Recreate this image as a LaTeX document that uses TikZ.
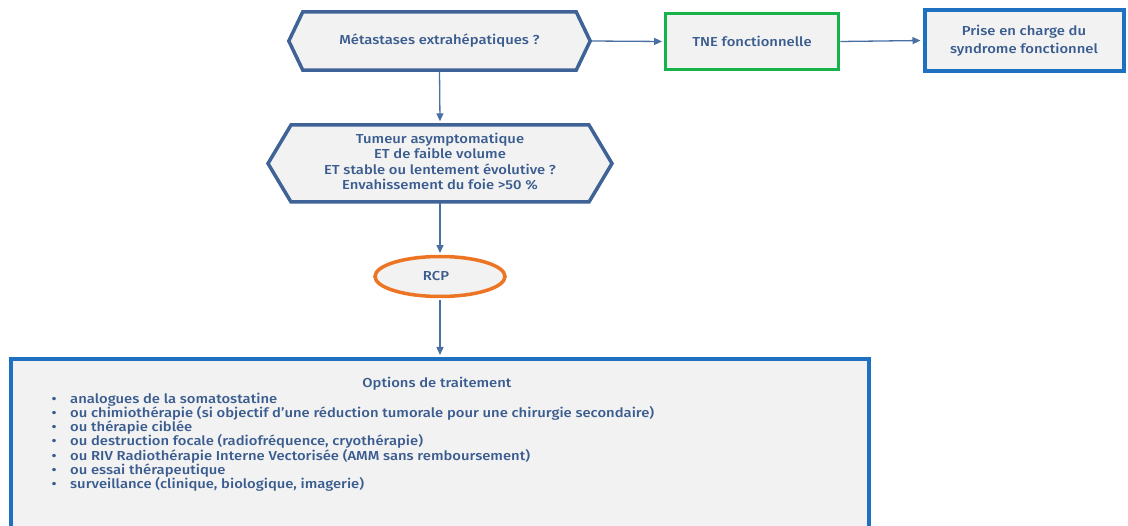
\documentclass[tikz,border=0pt]{standalone}
\usepackage{fontspec}
\setmainfont{Fira Sans}[UprightFont=* Medium, BoldFont=* SemiBold, FakeStretch=1.14]
\usetikzlibrary{arrows.meta,shapes.geometric,calc}

\definecolor{txt}{HTML}{3A5C8F}
\definecolor{hexline}{HTML}{3F6397}
\definecolor{conn}{HTML}{4A6FA3}
\definecolor{paper}{HTML}{F2F2F2}
\definecolor{grn}{HTML}{16B24A}
\definecolor{org}{HTML}{EC7423}
\definecolor{blu}{HTML}{1E70C1}

\pgfdeclarelayer{bg}
\pgfsetlayers{bg,main}

% hexagon with pointed left/right ends drawn around a named node
\newcommand\hexframe[2]{%
  \begin{pgfonlayer}{bg}
  \draw[hexline, line width=3.5pt, fill=paper]
    (#1.west) -- ([xshift=#2]#1.north west) -- ([xshift=-#2]#1.north east)
    -- (#1.east) -- ([xshift=-#2]#1.south east) -- ([xshift=#2]#1.south west) -- cycle;
  \end{pgfonlayer}}

\newcommand\itm{\makebox[19pt][l]{\hspace{0.5pt}•}}

\tikzset{
  label text/.style={text=txt, font=\fontsize{13}{15}\selectfont, align=center},
  hexnode/.style={label text, inner sep=0pt},
  link/.style={conn, line width=1.3pt, -{Triangle[length=8pt,width=7pt]}},
}

\begin{document}
\begin{tikzpicture}[x=1pt,y=-1pt]
\useasboundingbox (0,0) rectangle (1128,526);

% decision hexagons
\node[hexnode, minimum width=301, minimum height=58] (m1) at (439.5,41) {Métastases extrahépatiques ?};
\hexframe{m1}{14}
\node[hexnode, minimum width=344, minimum height=77, font=\fontsize{13}{15.5}\selectfont] (m2) at (440,161.5)
  {Tumeur asymptomatique\\ET de faible volume\\ET stable ou lentement évolutive ?\\Envahissement du foie >50 \%};
\path (m2.north) ++(0,-1.5) coordinate (m2top) (m2.south) ++(0,2.5) coordinate (m2bot);
\begin{pgfonlayer}{bg}
\draw[hexline, line width=3.5pt, fill=paper]
  (268,163.5) -- (291,125) -- (589,125) -- (612,163.5) -- (589,202) -- (291,202) -- cycle;
\end{pgfonlayer}

% boxes on the right
\node[label text, draw=grn, line width=3.5pt, fill=paper, minimum width=173, minimum height=56] (tne) at (752,41.5) {TNE fonctionnelle};
\node[label text, draw=blu, line width=4pt, fill=paper, minimum width=199, minimum height=61, font=\fontsize{13}{17.5}\selectfont] (pec) at (1024,40.5)
  {Prise en charge du\\syndrome fonctionnel};

% RCP ellipse
\node[label text, ellipse, draw=org, line width=3.5pt, fill=paper, minimum width=130, minimum height=40, inner sep=0pt] (rcp) at (440,276.5) {\hspace*{-8pt}RCP};

% treatment options box
\node[draw=blu, line width=4pt, fill=paper, minimum width=858, minimum height=220, anchor=north] (opt) at (440,357) {};
\node[label text] (opttitle) at (437,383.5) {Options de traitement};
\node[label text, align=left, anchor=north west, inner sep=0pt, font=\fontsize{13}{14.3}\selectfont] (optlist) at (51,392.5)
  {\itm analogues de la somatostatine\\
   \itm ou chimiothérapie (si objectif d'une réduction tumorale pour une chirurgie secondaire)\\
   \itm ou thérapie ciblée\\
   \itm ou destruction focale (radiofréquence, cryothérapie)\\
   \itm ou RIV Radiothérapie Interne Vectorisée (AMM sans remboursement)\\
   \itm ou essai thérapeutique\\
   \itm surveillance (clinique, biologique, imagerie)};

% connectors
\draw[link, shorten <=1.7pt, shorten >=1.7pt] (m1.east) -- (tne.west);
\draw[link, shorten >=2pt] (tne.east) -- (pec.west);
\draw[link, shorten <=1.7pt] (m1.south) -- (m2top);
\draw[link, shorten <=0pt, shorten >=1.7pt] (m2bot) -- (rcp.north);
\draw[link, shorten <=1.7pt, shorten >=2pt] (rcp.south) -- (opt.north);
\end{tikzpicture}
\end{document}
